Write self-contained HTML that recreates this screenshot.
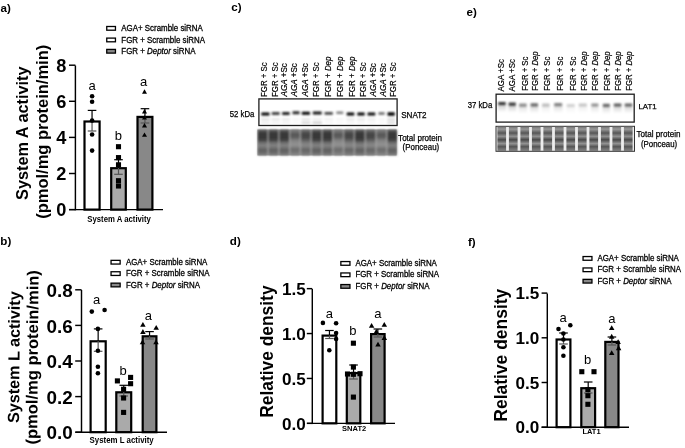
<!DOCTYPE html>
<html><head><meta charset="utf-8"><style>
html,body{margin:0;padding:0;background:#fff;}
body{width:685px;height:448px;overflow:hidden;position:relative;font-family:"Liberation Sans", sans-serif;}
svg{filter:grayscale(1);}
</style></head><body>
<svg width="685" height="448" viewBox="0 0 685 448" style="position:absolute;left:0;top:0;font-family:'Liberation Sans', sans-serif">
<defs><filter id="bl1" x="-20%" y="-50%" width="140%" height="200%"><feGaussianBlur stdDeviation="1 0.8"/></filter><filter id="bl2" x="-20%" y="-50%" width="140%" height="200%"><feGaussianBlur stdDeviation="0.9 0.8"/></filter><filter id="bl05"><feGaussianBlur stdDeviation="0.45"/></filter></defs>
<text x="0.5" y="12.4" font-size="11.6" font-weight="bold" text-anchor="start" fill="#000"  style="">a)</text>
<text x="231.2" y="10.5" font-size="11.6" font-weight="bold" text-anchor="start" fill="#000"  style="">c)</text>
<text x="466.5" y="15.5" font-size="11.6" font-weight="bold" text-anchor="start" fill="#000"  style="">e)</text>
<text x="0.3" y="244.7" font-size="11.6" font-weight="bold" text-anchor="start" fill="#000"  style="">b)</text>
<text x="229.8" y="244.6" font-size="11.6" font-weight="bold" text-anchor="start" fill="#000"  style="">d)</text>
<text x="468" y="245.5" font-size="11.6" font-weight="bold" text-anchor="start" fill="#000"  style="">f)</text>
<rect x="84.5" y="121.5" width="15.1" height="88.1" fill="#fff" stroke="#000" stroke-width="2.2"/>
<rect x="111.2" y="168.2" width="14.6" height="41.4" fill="#aaa" stroke="#000" stroke-width="2.2"/>
<rect x="137.5" y="116.9" width="14.9" height="92.7" fill="#888" stroke="#000" stroke-width="2.2"/>
<line x1="92.05" y1="110.4" x2="92.05" y2="121.3" stroke="#000" stroke-width="1.2"/>
<line x1="87.75" y1="110.4" x2="96.35" y2="110.4" stroke="#000" stroke-width="1.2"/>
<line x1="92.05" y1="121.3" x2="92.05" y2="131" stroke="#555" stroke-width="1.2"/>
<line x1="87.75" y1="131" x2="96.35" y2="131" stroke="#555" stroke-width="1.2"/>
<circle cx="92.1" cy="96.2" r="2.3" fill="#000"/>
<circle cx="92.1" cy="101.8" r="2.3" fill="#000"/>
<circle cx="92.1" cy="120.6" r="2.3" fill="#000"/>
<circle cx="92.1" cy="134.5" r="2.3" fill="#000"/>
<circle cx="92.1" cy="150.6" r="2.3" fill="#000"/>
<text x="92.1" y="89.5" font-size="13" font-weight="normal" text-anchor="middle" fill="#000"  style="">a</text>
<line x1="118.5" y1="159.7" x2="118.5" y2="168" stroke="#000" stroke-width="1.2"/>
<line x1="114.2" y1="159.7" x2="122.8" y2="159.7" stroke="#000" stroke-width="1.2"/>
<line x1="118.5" y1="168" x2="118.5" y2="174.3" stroke="#555" stroke-width="1.2"/>
<line x1="114.2" y1="174.3" x2="122.8" y2="174.3" stroke="#555" stroke-width="1.2"/>
<rect x="115.95" y="144.15" width="5.1" height="5.1" fill="#000"/>
<rect x="115.95" y="155.05" width="5.1" height="5.1" fill="#000"/>
<rect x="115.95" y="162.25" width="5.1" height="5.1" fill="#000"/>
<rect x="115.95" y="178.15" width="5.1" height="5.1" fill="#000"/>
<rect x="115.95" y="183.45" width="5.1" height="5.1" fill="#000"/>
<text x="118.3" y="139.5" font-size="13" font-weight="normal" text-anchor="middle" fill="#000"  style="">b</text>
<line x1="144.95" y1="108.7" x2="144.95" y2="116.7" stroke="#000" stroke-width="1.2"/>
<line x1="140.65" y1="108.7" x2="149.25" y2="108.7" stroke="#000" stroke-width="1.2"/>
<line x1="144.95" y1="116.7" x2="144.95" y2="123" stroke="#555" stroke-width="1.2"/>
<line x1="140.65" y1="123" x2="149.25" y2="123" stroke="#555" stroke-width="1.2"/>
<path d="M144.5 89.33 L147 93.77 L142 93.77 Z" fill="#000"/>
<path d="M144.5 109.03 L147 113.47 L142 113.47 Z" fill="#000"/>
<path d="M144.5 115.13 L147 119.57 L142 119.57 Z" fill="#000"/>
<path d="M144.5 123.03 L147 127.47 L142 127.47 Z" fill="#000"/>
<path d="M144.5 132.43 L147 136.87 L142 136.87 Z" fill="#000"/>
<text x="143.6" y="86.1" font-size="13" font-weight="normal" text-anchor="middle" fill="#000"  style="">a</text>
<line x1="75.4" y1="65.53" x2="75.4" y2="210.32" stroke="#000" stroke-width="1.45"/>
<line x1="69" y1="209.6" x2="163" y2="209.6" stroke="#000" stroke-width="1.45"/>
<line x1="69" y1="209.6" x2="75.4" y2="209.6" stroke="#000" stroke-width="1.45"/>
<text transform="translate(66.4,216.1) scale(1.04,1)" font-size="17.5" font-weight="bold" text-anchor="end">0</text>
<line x1="69" y1="173.5" x2="75.4" y2="173.5" stroke="#000" stroke-width="1.45"/>
<text transform="translate(66.4,180) scale(1.04,1)" font-size="17.5" font-weight="bold" text-anchor="end">2</text>
<line x1="69" y1="137.4" x2="75.4" y2="137.4" stroke="#000" stroke-width="1.45"/>
<text transform="translate(66.4,143.9) scale(1.04,1)" font-size="17.5" font-weight="bold" text-anchor="end">4</text>
<line x1="69" y1="101.3" x2="75.4" y2="101.3" stroke="#000" stroke-width="1.45"/>
<text transform="translate(66.4,107.8) scale(1.04,1)" font-size="17.5" font-weight="bold" text-anchor="end">6</text>
<line x1="69" y1="65.2" x2="75.4" y2="65.2" stroke="#000" stroke-width="1.45"/>
<text transform="translate(66.4,71.7) scale(1.04,1)" font-size="17.5" font-weight="bold" text-anchor="end">8</text>
<rect x="106.75" y="26.5" width="8.7" height="3.7" fill="#fff" stroke="#000" stroke-width="1.3"/>
<text x="121.3" y="30.9" font-size="8.6" font-weight="normal" text-anchor="start" fill="#000" textLength="81.5" lengthAdjust="spacingAndGlyphs" stroke="#000" stroke-width="0.3" style="">AGA+ Scramble siRNA</text>
<rect x="106.75" y="38.1" width="8.7" height="3.7" fill="#fff" stroke="#000" stroke-width="1.3"/>
<text x="121.3" y="42.5" font-size="8.6" font-weight="normal" text-anchor="start" fill="#000" textLength="83.7" lengthAdjust="spacingAndGlyphs" stroke="#000" stroke-width="0.3" style="">FGR + Scramble siRNA</text>
<rect x="106.75" y="49.4" width="8.7" height="3.7" fill="#888" stroke="#000" stroke-width="1.3"/>
<text x="121.3" y="53.8" font-size="8.6" font-weight="normal" text-anchor="start" fill="#000" textLength="74.2" lengthAdjust="spacingAndGlyphs" stroke="#000" stroke-width="0.3" style="">FGR + <tspan font-style="italic">Deptor</tspan> siRNA</text>
<text transform="translate(27.5,133.2) rotate(-90)" x="0" y="0" font-size="16.2" font-weight="bold" text-anchor="middle" textLength="133.5" lengthAdjust="spacingAndGlyphs">System A activity</text>
<text transform="translate(47.5,131.8) rotate(-90)" x="0" y="0" font-size="16.2" font-weight="bold" text-anchor="middle" textLength="174" lengthAdjust="spacingAndGlyphs">(pmol/mg protein/min)</text>
<text x="119.1" y="221.6" font-size="8.6" font-weight="bold" text-anchor="middle" fill="#000" textLength="63.6" lengthAdjust="spacingAndGlyphs" style="">System A activity</text>
<rect x="90.6" y="341.3" width="15.1" height="90.9" fill="#fff" stroke="#000" stroke-width="2.2"/>
<rect x="116.3" y="392.3" width="14.9" height="39.9" fill="#aaa" stroke="#000" stroke-width="2.2"/>
<rect x="142.7" y="336.3" width="13.7" height="95.9" fill="#888" stroke="#000" stroke-width="2.2"/>
<line x1="98.15" y1="328.9" x2="98.15" y2="341.1" stroke="#000" stroke-width="1.2"/>
<line x1="93.85" y1="328.9" x2="102.45" y2="328.9" stroke="#000" stroke-width="1.2"/>
<line x1="98.15" y1="341.1" x2="98.15" y2="351.3" stroke="#555" stroke-width="1.2"/>
<line x1="93.85" y1="351.3" x2="102.45" y2="351.3" stroke="#555" stroke-width="1.2"/>
<circle cx="91.8" cy="311.6" r="2.3" fill="#000"/>
<circle cx="104.6" cy="310" r="2.3" fill="#000"/>
<circle cx="97.9" cy="328.9" r="2.3" fill="#000"/>
<circle cx="97.9" cy="350.7" r="2.3" fill="#000"/>
<circle cx="97.9" cy="366.8" r="2.3" fill="#000"/>
<circle cx="97.9" cy="373.2" r="2.3" fill="#000"/>
<text x="96.6" y="303.8" font-size="13" font-weight="normal" text-anchor="middle" fill="#000"  style="">a</text>
<line x1="123.75" y1="385.3" x2="123.75" y2="392.1" stroke="#000" stroke-width="1.2"/>
<line x1="119.45" y1="385.3" x2="128.05" y2="385.3" stroke="#000" stroke-width="1.2"/>
<line x1="123.75" y1="392.1" x2="123.75" y2="396" stroke="#555" stroke-width="1.2"/>
<line x1="119.45" y1="396" x2="128.05" y2="396" stroke="#555" stroke-width="1.2"/>
<rect x="114.85" y="378.35" width="5.1" height="5.1" fill="#000"/>
<rect x="128.05" y="374.85" width="5.1" height="5.1" fill="#000"/>
<rect x="128.05" y="381.15" width="5.1" height="5.1" fill="#000"/>
<rect x="121.05" y="386.75" width="5.1" height="5.1" fill="#000"/>
<rect x="121.05" y="395.45" width="5.1" height="5.1" fill="#000"/>
<rect x="121.05" y="409.85" width="5.1" height="5.1" fill="#000"/>
<text x="123.2" y="374.5" font-size="13" font-weight="normal" text-anchor="middle" fill="#000"  style="">b</text>
<line x1="149.55" y1="331.6" x2="149.55" y2="336.1" stroke="#000" stroke-width="1.2"/>
<line x1="145.25" y1="331.6" x2="153.85" y2="331.6" stroke="#000" stroke-width="1.2"/>
<line x1="149.55" y1="336.1" x2="149.55" y2="339" stroke="#555" stroke-width="1.2"/>
<line x1="145.25" y1="339" x2="153.85" y2="339" stroke="#555" stroke-width="1.2"/>
<path d="M142.9 321.9 L145.65 326.8 L140.15 326.8 Z" fill="#000"/>
<path d="M156.2 324.9 L158.95 329.8 L153.45 329.8 Z" fill="#000"/>
<path d="M142.9 329 L145.65 333.9 L140.15 333.9 Z" fill="#000"/>
<path d="M142.5 339.4 L145.25 344.3 L139.75 344.3 Z" fill="#000"/>
<path d="M156 339.4 L158.75 344.3 L153.25 344.3 Z" fill="#000"/>
<text x="148.3" y="320.1" font-size="13" font-weight="normal" text-anchor="middle" fill="#000"  style="">a</text>
<line x1="81.5" y1="289.93" x2="81.5" y2="432.93" stroke="#000" stroke-width="1.45"/>
<line x1="75.4" y1="432.2" x2="167" y2="432.2" stroke="#000" stroke-width="1.45"/>
<line x1="75.2" y1="432.2" x2="81.5" y2="432.2" stroke="#000" stroke-width="1.45"/>
<text transform="translate(72.7,439.3) scale(1.08,1)" font-size="17.5" font-weight="bold" text-anchor="end">0.0</text>
<line x1="75.2" y1="396.6" x2="81.5" y2="396.6" stroke="#000" stroke-width="1.45"/>
<text transform="translate(72.7,403.7) scale(1.08,1)" font-size="17.5" font-weight="bold" text-anchor="end">0.2</text>
<line x1="75.2" y1="361" x2="81.5" y2="361" stroke="#000" stroke-width="1.45"/>
<text transform="translate(72.7,368.1) scale(1.08,1)" font-size="17.5" font-weight="bold" text-anchor="end">0.4</text>
<line x1="75.2" y1="325.4" x2="81.5" y2="325.4" stroke="#000" stroke-width="1.45"/>
<text transform="translate(72.7,332.5) scale(1.08,1)" font-size="17.5" font-weight="bold" text-anchor="end">0.6</text>
<line x1="75.2" y1="289.8" x2="81.5" y2="289.8" stroke="#000" stroke-width="1.45"/>
<text transform="translate(72.7,296.9) scale(1.08,1)" font-size="17.5" font-weight="bold" text-anchor="end">0.8</text>
<rect x="111.05" y="260.35" width="9.1" height="3.7" fill="#fff" stroke="#000" stroke-width="1.3"/>
<text x="125.9" y="264.75" font-size="8.6" font-weight="normal" text-anchor="start" fill="#000" textLength="81.5" lengthAdjust="spacingAndGlyphs" stroke="#000" stroke-width="0.3" style="">AGA+ Scramble siRNA</text>
<rect x="111.05" y="271.75" width="9.1" height="3.7" fill="#fff" stroke="#000" stroke-width="1.3"/>
<text x="125.9" y="276.15" font-size="8.6" font-weight="normal" text-anchor="start" fill="#000" textLength="83.7" lengthAdjust="spacingAndGlyphs" stroke="#000" stroke-width="0.3" style="">FGR + Scramble siRNA</text>
<rect x="111.05" y="283.15" width="9.1" height="3.7" fill="#888" stroke="#000" stroke-width="1.3"/>
<text x="125.9" y="287.55" font-size="8.6" font-weight="normal" text-anchor="start" fill="#000" textLength="74.2" lengthAdjust="spacingAndGlyphs" stroke="#000" stroke-width="0.3" style="">FGR + <tspan font-style="italic">Deptor</tspan> siRNA</text>
<text transform="translate(19.5,357.2) rotate(-89.57)" x="0" y="0" font-size="16.2" font-weight="bold" text-anchor="middle" textLength="131.8" lengthAdjust="spacingAndGlyphs">System L activity</text>
<text transform="translate(37.85,357.35) rotate(-89.57)" x="0" y="0" font-size="16.2" font-weight="bold" text-anchor="middle" textLength="174.3" lengthAdjust="spacingAndGlyphs">(pmol/mg protein/min)</text>
<text x="121.6" y="442.9" font-size="8.4" font-weight="bold" text-anchor="middle" fill="#000" textLength="64.2" lengthAdjust="spacingAndGlyphs" style="">System L activity</text>
<rect x="322.6" y="335.6" width="13.7" height="87.75" fill="#fff" stroke="#000" stroke-width="2.2"/>
<rect x="346.8" y="373.1" width="13.5" height="50.25" fill="#aaa" stroke="#000" stroke-width="2.2"/>
<rect x="371.1" y="334.1" width="13.5" height="89.25" fill="#888" stroke="#000" stroke-width="2.2"/>
<line x1="329.45" y1="330.5" x2="329.45" y2="335.4" stroke="#000" stroke-width="1.2"/>
<line x1="325.15" y1="330.5" x2="333.75" y2="330.5" stroke="#000" stroke-width="1.2"/>
<line x1="329.45" y1="335.4" x2="329.45" y2="338.5" stroke="#555" stroke-width="1.2"/>
<line x1="325.15" y1="338.5" x2="333.75" y2="338.5" stroke="#555" stroke-width="1.2"/>
<circle cx="322.9" cy="322.9" r="2.3" fill="#000"/>
<circle cx="336.1" cy="323.2" r="2.3" fill="#000"/>
<circle cx="336.1" cy="333" r="2.3" fill="#000"/>
<circle cx="336.1" cy="339" r="2.3" fill="#000"/>
<circle cx="329.3" cy="350.2" r="2.3" fill="#000"/>
<text x="329.3" y="317.9" font-size="13" font-weight="normal" text-anchor="middle" fill="#000"  style="">a</text>
<line x1="353.55" y1="365" x2="353.55" y2="372.9" stroke="#000" stroke-width="1.2"/>
<line x1="349.25" y1="365" x2="357.85" y2="365" stroke="#000" stroke-width="1.2"/>
<line x1="353.55" y1="372.9" x2="353.55" y2="379" stroke="#555" stroke-width="1.2"/>
<line x1="349.25" y1="379" x2="357.85" y2="379" stroke="#555" stroke-width="1.2"/>
<rect x="350.85" y="340.65" width="5.1" height="5.1" fill="#000"/>
<rect x="350.85" y="364.55" width="5.1" height="5.1" fill="#000"/>
<rect x="350.85" y="371.75" width="5.1" height="5.1" fill="#000"/>
<rect x="357.45" y="371.15" width="5.1" height="5.1" fill="#000"/>
<rect x="344.95" y="371.45" width="5.1" height="5.1" fill="#000"/>
<rect x="350.85" y="394.55" width="5.1" height="5.1" fill="#000"/>
<text x="352.9" y="334.5" font-size="13" font-weight="normal" text-anchor="middle" fill="#000"  style="">b</text>
<line x1="377.85" y1="329" x2="377.85" y2="333.9" stroke="#000" stroke-width="1.2"/>
<line x1="373.55" y1="329" x2="382.15" y2="329" stroke="#000" stroke-width="1.2"/>
<line x1="377.85" y1="333.9" x2="377.85" y2="337" stroke="#555" stroke-width="1.2"/>
<line x1="373.55" y1="337" x2="382.15" y2="337" stroke="#555" stroke-width="1.2"/>
<path d="M371.6 322.9 L374.35 327.8 L368.85 327.8 Z" fill="#000"/>
<path d="M384.3 321.9 L387.05 326.8 L381.55 326.8 Z" fill="#000"/>
<path d="M376.3 328.8 L379.05 333.69 L373.55 333.69 Z" fill="#000"/>
<path d="M384.3 335.1 L387.05 340 L381.55 340 Z" fill="#000"/>
<path d="M378 341.7 L380.75 346.6 L375.25 346.6 Z" fill="#000"/>
<text x="377.9" y="317.9" font-size="13" font-weight="normal" text-anchor="middle" fill="#000"  style="">a</text>
<line x1="312.3" y1="289.02" x2="312.3" y2="424.08" stroke="#000" stroke-width="1.45"/>
<line x1="307" y1="423.35" x2="395" y2="423.35" stroke="#000" stroke-width="1.45"/>
<line x1="306.8" y1="423.35" x2="312.3" y2="423.35" stroke="#000" stroke-width="1.45"/>
<text transform="translate(305.7,429.52) scale(1.05,1)" font-size="16.3" font-weight="bold" text-anchor="end">0.0</text>
<line x1="306.8" y1="378.45" x2="312.3" y2="378.45" stroke="#000" stroke-width="1.45"/>
<text transform="translate(305.7,384.62) scale(1.05,1)" font-size="16.3" font-weight="bold" text-anchor="end">0.5</text>
<line x1="306.8" y1="333.55" x2="312.3" y2="333.55" stroke="#000" stroke-width="1.45"/>
<text transform="translate(305.7,339.72) scale(1.05,1)" font-size="16.3" font-weight="bold" text-anchor="end">1.0</text>
<line x1="306.8" y1="288.65" x2="312.3" y2="288.65" stroke="#000" stroke-width="1.45"/>
<text transform="translate(305.7,294.82) scale(1.05,1)" font-size="16.3" font-weight="bold" text-anchor="end">1.5</text>
<rect x="340.85" y="261.55" width="9.1" height="3.7" fill="#fff" stroke="#000" stroke-width="1.3"/>
<text x="355.4" y="265.95" font-size="8.6" font-weight="normal" text-anchor="start" fill="#000" textLength="81.5" lengthAdjust="spacingAndGlyphs" stroke="#000" stroke-width="0.3" style="">AGA+ Scramble siRNA</text>
<rect x="340.85" y="272.95" width="9.1" height="3.7" fill="#fff" stroke="#000" stroke-width="1.3"/>
<text x="355.4" y="277.35" font-size="8.6" font-weight="normal" text-anchor="start" fill="#000" textLength="83.7" lengthAdjust="spacingAndGlyphs" stroke="#000" stroke-width="0.3" style="">FGR + Scramble siRNA</text>
<rect x="340.85" y="284.55" width="9.1" height="3.7" fill="#888" stroke="#000" stroke-width="1.3"/>
<text x="355.4" y="288.95" font-size="8.6" font-weight="normal" text-anchor="start" fill="#000" textLength="74.2" lengthAdjust="spacingAndGlyphs" stroke="#000" stroke-width="0.3" style="">FGR + <tspan font-style="italic">Deptor</tspan> siRNA</text>
<text transform="translate(273.4,351.6) rotate(-90)" x="0" y="0" font-size="17.7" font-weight="bold" text-anchor="middle" textLength="132.3" lengthAdjust="spacingAndGlyphs">Relative density</text>
<text x="354.1" y="430.9" font-size="7.5" font-weight="bold" text-anchor="middle" fill="#000" textLength="24.2" lengthAdjust="spacingAndGlyphs" style="">SNAT2</text>
<rect x="556.6" y="339.5" width="13.8" height="87.7" fill="#fff" stroke="#000" stroke-width="2.2"/>
<rect x="581.3" y="388.2" width="13.8" height="39" fill="#aaa" stroke="#000" stroke-width="2.2"/>
<rect x="605.3" y="341.9" width="13.2" height="85.3" fill="#888" stroke="#000" stroke-width="2.2"/>
<line x1="563.5" y1="333" x2="563.5" y2="339.3" stroke="#000" stroke-width="1.2"/>
<line x1="559.2" y1="333" x2="567.8" y2="333" stroke="#000" stroke-width="1.2"/>
<line x1="563.5" y1="339.3" x2="563.5" y2="344" stroke="#555" stroke-width="1.2"/>
<line x1="559.2" y1="344" x2="567.8" y2="344" stroke="#555" stroke-width="1.2"/>
<circle cx="558.5" cy="329" r="2.3" fill="#000"/>
<circle cx="570.3" cy="325.3" r="2.3" fill="#000"/>
<circle cx="563.4" cy="333.5" r="2.3" fill="#000"/>
<circle cx="563.4" cy="339.5" r="2.3" fill="#000"/>
<circle cx="563.4" cy="347.2" r="2.3" fill="#000"/>
<circle cx="563.4" cy="355.8" r="2.3" fill="#000"/>
<text x="563.2" y="321.9" font-size="13" font-weight="normal" text-anchor="middle" fill="#000"  style="">a</text>
<line x1="588.2" y1="382" x2="588.2" y2="388" stroke="#000" stroke-width="1.2"/>
<line x1="583.9" y1="382" x2="592.5" y2="382" stroke="#000" stroke-width="1.2"/>
<line x1="588.2" y1="388" x2="588.2" y2="393" stroke="#555" stroke-width="1.2"/>
<line x1="583.9" y1="393" x2="592.5" y2="393" stroke="#555" stroke-width="1.2"/>
<rect x="579.25" y="369.15" width="5.1" height="5.1" fill="#000"/>
<rect x="591.45" y="369.15" width="5.1" height="5.1" fill="#000"/>
<rect x="585.35" y="387.05" width="5.1" height="5.1" fill="#000"/>
<rect x="585.35" y="393.15" width="5.1" height="5.1" fill="#000"/>
<rect x="585.35" y="401.75" width="5.1" height="5.1" fill="#000"/>
<text x="587.6" y="364.4" font-size="13" font-weight="normal" text-anchor="middle" fill="#000"  style="">b</text>
<line x1="611.9" y1="337" x2="611.9" y2="341.7" stroke="#000" stroke-width="1.2"/>
<line x1="607.6" y1="337" x2="616.2" y2="337" stroke="#000" stroke-width="1.2"/>
<line x1="611.9" y1="341.7" x2="611.9" y2="345" stroke="#555" stroke-width="1.2"/>
<line x1="607.6" y1="345" x2="616.2" y2="345" stroke="#555" stroke-width="1.2"/>
<path d="M611.7 325.2 L614.45 330.1 L608.95 330.1 Z" fill="#000"/>
<path d="M611.7 333.8 L614.45 338.69 L608.95 338.69 Z" fill="#000"/>
<path d="M618.1 339.2 L620.85 344.1 L615.35 344.1 Z" fill="#000"/>
<path d="M618.6 345.3 L621.35 350.19 L615.85 350.19 Z" fill="#000"/>
<path d="M611.7 350.2 L614.45 355.1 L608.95 355.1 Z" fill="#000"/>
<text x="611.8" y="322.9" font-size="13" font-weight="normal" text-anchor="middle" fill="#000"  style="">a</text>
<line x1="547.3" y1="293.52" x2="547.3" y2="427.93" stroke="#000" stroke-width="1.45"/>
<line x1="541.6" y1="427.2" x2="629" y2="427.2" stroke="#000" stroke-width="1.45"/>
<line x1="541.6" y1="427.2" x2="547.3" y2="427.2" stroke="#000" stroke-width="1.45"/>
<text transform="translate(539.4,433.27) scale(1.05,1)" font-size="16.3" font-weight="bold" text-anchor="end">0.0</text>
<line x1="541.6" y1="382.5" x2="547.3" y2="382.5" stroke="#000" stroke-width="1.45"/>
<text transform="translate(539.4,388.57) scale(1.05,1)" font-size="16.3" font-weight="bold" text-anchor="end">0.5</text>
<line x1="541.6" y1="337.8" x2="547.3" y2="337.8" stroke="#000" stroke-width="1.45"/>
<text transform="translate(539.4,343.87) scale(1.05,1)" font-size="16.3" font-weight="bold" text-anchor="end">1.0</text>
<line x1="541.6" y1="293.1" x2="547.3" y2="293.1" stroke="#000" stroke-width="1.45"/>
<text transform="translate(539.4,299.17) scale(1.05,1)" font-size="16.3" font-weight="bold" text-anchor="end">1.5</text>
<rect x="583.05" y="256.55" width="8.9" height="3.7" fill="#fff" stroke="#000" stroke-width="1.3"/>
<text x="597.4" y="260.95" font-size="8.6" font-weight="normal" text-anchor="start" fill="#000" textLength="81.5" lengthAdjust="spacingAndGlyphs" stroke="#000" stroke-width="0.3" style="">AGA+ Scramble siRNA</text>
<rect x="583.05" y="267.95" width="8.9" height="3.7" fill="#fff" stroke="#000" stroke-width="1.3"/>
<text x="597.4" y="272.35" font-size="8.6" font-weight="normal" text-anchor="start" fill="#000" textLength="83.7" lengthAdjust="spacingAndGlyphs" stroke="#000" stroke-width="0.3" style="">FGR + Scramble siRNA</text>
<rect x="583.05" y="279.35" width="8.9" height="3.7" fill="#888" stroke="#000" stroke-width="1.3"/>
<text x="597.4" y="283.75" font-size="8.6" font-weight="normal" text-anchor="start" fill="#000" textLength="74.2" lengthAdjust="spacingAndGlyphs" stroke="#000" stroke-width="0.3" style="">FGR + <tspan font-style="italic">Deptor</tspan> siRNA</text>
<text transform="translate(507,355.2) rotate(-90)" x="0" y="0" font-size="17.6" font-weight="bold" text-anchor="middle" textLength="133" lengthAdjust="spacingAndGlyphs">Relative density</text>
<text x="591.5" y="433.7" font-size="7.8" font-weight="bold" text-anchor="middle" fill="#000" textLength="18.2" lengthAdjust="spacingAndGlyphs" style="">LAT1</text>
<text transform="translate(267.14,97) rotate(-90)" x="0" y="0" font-size="8.2" textLength="34.8" lengthAdjust="spacingAndGlyphs" stroke="#000" stroke-width="0.2">FGR + Sc</text>
<text transform="translate(277.94,97) rotate(-90)" x="0" y="0" font-size="8.2" textLength="34.8" lengthAdjust="spacingAndGlyphs" stroke="#000" stroke-width="0.2">FGR + Sc</text>
<text transform="translate(287.44,96.5) rotate(-90)" x="0" y="0" font-size="8.2" textLength="33.4" lengthAdjust="spacingAndGlyphs" stroke="#000" stroke-width="0.2"><tspan font-style="italic">AGA</tspan> +Sc</text>
<text transform="translate(297.34,96.5) rotate(-90)" x="0" y="0" font-size="8.2" textLength="33.4" lengthAdjust="spacingAndGlyphs" stroke="#000" stroke-width="0.2"><tspan font-style="italic">AGA</tspan> +Sc</text>
<text transform="translate(308.14,96.5) rotate(-90)" x="0" y="0" font-size="8.2" textLength="33.4" lengthAdjust="spacingAndGlyphs" stroke="#000" stroke-width="0.2"><tspan font-style="italic">AGA</tspan> +Sc</text>
<text transform="translate(319.44,97) rotate(-90)" x="0" y="0" font-size="8.2" textLength="34.8" lengthAdjust="spacingAndGlyphs" stroke="#000" stroke-width="0.2">FGR + Sc</text>
<text transform="translate(330.94,97) rotate(-90)" x="0" y="0" font-size="8.2" textLength="40.5" lengthAdjust="spacingAndGlyphs" stroke="#000" stroke-width="0.2">FGR + <tspan font-style="italic">Dep</tspan></text>
<text transform="translate(342.84,97) rotate(-90)" x="0" y="0" font-size="8.2" textLength="40.5" lengthAdjust="spacingAndGlyphs" stroke="#000" stroke-width="0.2">FGR + <tspan font-style="italic">Dep</tspan></text>
<text transform="translate(354.74,97) rotate(-90)" x="0" y="0" font-size="8.2" textLength="40.5" lengthAdjust="spacingAndGlyphs" stroke="#000" stroke-width="0.2">FGR + <tspan font-style="italic">Dep</tspan></text>
<text transform="translate(366.44,97) rotate(-90)" x="0" y="0" font-size="8.2" textLength="34.8" lengthAdjust="spacingAndGlyphs" stroke="#000" stroke-width="0.2">FGR + Sc</text>
<text transform="translate(376.34,96.5) rotate(-90)" x="0" y="0" font-size="8.2" textLength="33.4" lengthAdjust="spacingAndGlyphs" stroke="#000" stroke-width="0.2"><tspan font-style="italic">AGA</tspan> +Sc</text>
<text transform="translate(386.24,96.5) rotate(-90)" x="0" y="0" font-size="8.2" textLength="33.4" lengthAdjust="spacingAndGlyphs" stroke="#000" stroke-width="0.2"><tspan font-style="italic">AGA</tspan> +Sc</text>
<text transform="translate(396.24,97) rotate(-90)" x="0" y="0" font-size="8.2" textLength="34.8" lengthAdjust="spacingAndGlyphs" stroke="#000" stroke-width="0.2">FGR + Sc</text>
<text transform="translate(504.14,91.4) rotate(-90)" x="0" y="0" font-size="8.2" textLength="32.3" lengthAdjust="spacingAndGlyphs" stroke="#000" stroke-width="0.2">AGA +Sc</text>
<text transform="translate(514.94,91.4) rotate(-90)" x="0" y="0" font-size="8.2" textLength="32.3" lengthAdjust="spacingAndGlyphs" stroke="#000" stroke-width="0.2">AGA +Sc</text>
<text transform="translate(527.54,90.8) rotate(-90)" x="0" y="0" font-size="8.2" textLength="34.2" lengthAdjust="spacingAndGlyphs" stroke="#000" stroke-width="0.2">FGR + Sc</text>
<text transform="translate(537.74,90.8) rotate(-90)" x="0" y="0" font-size="8.2" textLength="39.5" lengthAdjust="spacingAndGlyphs" stroke="#000" stroke-width="0.2">FGR + <tspan font-style="italic">Dep</tspan></text>
<text transform="translate(550.24,90.8) rotate(-90)" x="0" y="0" font-size="8.2" textLength="34.2" lengthAdjust="spacingAndGlyphs" stroke="#000" stroke-width="0.2">FGR + Sc</text>
<text transform="translate(563.44,90.8) rotate(-90)" x="0" y="0" font-size="8.2" textLength="34.2" lengthAdjust="spacingAndGlyphs" stroke="#000" stroke-width="0.2">FGR + Sc</text>
<text transform="translate(576.24,90.8) rotate(-90)" x="0" y="0" font-size="8.2" textLength="34.2" lengthAdjust="spacingAndGlyphs" stroke="#000" stroke-width="0.2">FGR + Sc</text>
<text transform="translate(587.34,90.8) rotate(-90)" x="0" y="0" font-size="8.2" textLength="39.5" lengthAdjust="spacingAndGlyphs" stroke="#000" stroke-width="0.2">FGR + <tspan font-style="italic">Dep</tspan></text>
<text transform="translate(598.14,90.8) rotate(-90)" x="0" y="0" font-size="8.2" textLength="39.5" lengthAdjust="spacingAndGlyphs" stroke="#000" stroke-width="0.2">FGR + <tspan font-style="italic">Dep</tspan></text>
<text transform="translate(610.14,90.8) rotate(-90)" x="0" y="0" font-size="8.2" textLength="39.5" lengthAdjust="spacingAndGlyphs" stroke="#000" stroke-width="0.2">FGR + <tspan font-style="italic">Dep</tspan></text>
<text transform="translate(620.84,90.8) rotate(-90)" x="0" y="0" font-size="8.2" textLength="39.5" lengthAdjust="spacingAndGlyphs" stroke="#000" stroke-width="0.2">FGR + <tspan font-style="italic">Dep</tspan></text>
<text transform="translate(631.64,90.8) rotate(-90)" x="0" y="0" font-size="8.2" textLength="39.5" lengthAdjust="spacingAndGlyphs" stroke="#000" stroke-width="0.2">FGR + <tspan font-style="italic">Dep</tspan></text>
<rect x="258.9" y="98.9" width="138.2" height="26.6" fill="#fff" stroke="#1e1e1e" stroke-width="1.3"/>
<g filter="url(#bl1)">
<rect x="261.3" y="112.5" width="8.2" height="3" rx="0.6" fill="#000" fill-opacity="1"/>
<rect x="261" y="118.6" width="8.8" height="1.6" fill="#000" fill-opacity="0.16"/>
<rect x="261" y="121.9" width="8.8" height="1.6" fill="#000" fill-opacity="0.1"/>
<rect x="271.7" y="112.1" width="8" height="2.8" rx="0.6" fill="#000" fill-opacity="0.74"/>
<rect x="271.4" y="118.6" width="8.6" height="1.6" fill="#000" fill-opacity="0.14"/>
<rect x="271.4" y="121.9" width="8.6" height="1.6" fill="#000" fill-opacity="0.08"/>
<rect x="282.1" y="112.1" width="7.6" height="2.8" rx="0.6" fill="#000" fill-opacity="0.88"/>
<rect x="281.8" y="118.6" width="8.2" height="1.6" fill="#000" fill-opacity="0.13"/>
<rect x="281.8" y="121.9" width="8.2" height="1.6" fill="#000" fill-opacity="0.08"/>
<rect x="292.5" y="111.3" width="7.1" height="3" rx="0.6" fill="#000" fill-opacity="0.84"/>
<rect x="292.2" y="118.6" width="7.7" height="1.6" fill="#000" fill-opacity="0.05"/>
<rect x="292.2" y="121.9" width="7.7" height="1.6" fill="#000" fill-opacity="0.03"/>
<rect x="301.8" y="111.8" width="8.2" height="3" rx="0.6" fill="#000" fill-opacity="1"/>
<rect x="301.5" y="118.6" width="8.8" height="1.6" fill="#000" fill-opacity="0.16"/>
<rect x="301.5" y="121.9" width="8.8" height="1.6" fill="#000" fill-opacity="0.22"/>
<rect x="312.8" y="111.6" width="8.9" height="2.8" rx="0.6" fill="#000" fill-opacity="0.92"/>
<rect x="312.5" y="118.6" width="9.5" height="1.6" fill="#000" fill-opacity="0.1"/>
<rect x="312.5" y="121.9" width="9.5" height="1.6" fill="#000" fill-opacity="0.26"/>
<rect x="324.5" y="111.9" width="8.4" height="2.8" rx="0.6" fill="#000" fill-opacity="0.74"/>
<rect x="324.2" y="118.6" width="9" height="1.6" fill="#000" fill-opacity="0.08"/>
<rect x="324.2" y="121.9" width="9" height="1.6" fill="#000" fill-opacity="0.05"/>
<rect x="336.3" y="111.5" width="7" height="2.6" rx="0.6" fill="#000" fill-opacity="0.51"/>
<rect x="336" y="118.6" width="7.6" height="1.6" fill="#000" fill-opacity="0.05"/>
<rect x="336" y="121.9" width="7.6" height="1.6" fill="#000" fill-opacity="0.03"/>
<rect x="346.7" y="112.5" width="7.6" height="3" rx="0.6" fill="#000" fill-opacity="1"/>
<rect x="346.4" y="118.6" width="8.2" height="1.6" fill="#000" fill-opacity="0.13"/>
<rect x="346.4" y="121.9" width="8.2" height="1.6" fill="#000" fill-opacity="0.06"/>
<rect x="357.3" y="112.5" width="7.4" height="3" rx="0.6" fill="#000" fill-opacity="1"/>
<rect x="357" y="118.6" width="8" height="1.6" fill="#000" fill-opacity="0.13"/>
<rect x="357" y="121.9" width="8" height="1.6" fill="#000" fill-opacity="0.06"/>
<rect x="367.5" y="112.5" width="7.8" height="3" rx="0.6" fill="#000" fill-opacity="0.97"/>
<rect x="367.2" y="118.6" width="8.4" height="1.6" fill="#000" fill-opacity="0.1"/>
<rect x="367.2" y="121.9" width="8.4" height="1.6" fill="#000" fill-opacity="0.05"/>
<rect x="378.4" y="112.2" width="6.3" height="2.6" rx="0.6" fill="#000" fill-opacity="0.61"/>
<rect x="378.1" y="118.6" width="6.9" height="1.6" fill="#000" fill-opacity="0.05"/>
<rect x="378.1" y="121.9" width="6.9" height="1.6" fill="#000" fill-opacity="0.03"/>
<rect x="387.5" y="112.3" width="7.3" height="3.4" rx="0.6" fill="#000" fill-opacity="1"/>
<rect x="387.2" y="118.6" width="7.9" height="1.6" fill="#000" fill-opacity="0.22"/>
<rect x="387.2" y="121.9" width="7.9" height="1.6" fill="#000" fill-opacity="0.19"/>
</g>
<text x="254.4" y="116.9" font-size="8.4" font-weight="normal" text-anchor="end" fill="#000" textLength="24.6" lengthAdjust="spacingAndGlyphs" stroke="#000" stroke-width="0.25" style="">52 kDa</text>
<text x="401.2" y="118.2" font-size="8.5" font-weight="normal" text-anchor="start" fill="#000" textLength="25.4" lengthAdjust="spacingAndGlyphs" stroke="#000" stroke-width="0.25" style="">SNAT2</text>
<rect x="257.4" y="129.5" width="139.2" height="26" fill="#a0a0a0"/>
<defs><linearGradient id="pcA" x1="0" y1="0" x2="0" y2="1"><stop offset="0" stop-color="#6e6e6e"/><stop offset="0.05" stop-color="#4e4e4e"/><stop offset="0.15" stop-color="#383838"/><stop offset="0.33" stop-color="#373737"/><stop offset="0.43" stop-color="#484848"/><stop offset="0.52" stop-color="#727272"/><stop offset="0.62" stop-color="#828282"/><stop offset="0.72" stop-color="#6e6e6e"/><stop offset="0.8" stop-color="#5c5c5c"/><stop offset="0.9" stop-color="#6c6c6c"/><stop offset="1" stop-color="#7c7c7c"/></linearGradient></defs>
<defs><linearGradient id="pcB" x1="0" y1="0" x2="0" y2="1"><stop offset="0" stop-color="#747474"/><stop offset="0.08" stop-color="#595959"/><stop offset="0.18" stop-color="#424242"/><stop offset="0.32" stop-color="#484848"/><stop offset="0.42" stop-color="#626262"/><stop offset="0.52" stop-color="#7e7e7e"/><stop offset="0.62" stop-color="#888888"/><stop offset="0.72" stop-color="#727272"/><stop offset="0.8" stop-color="#626262"/><stop offset="0.9" stop-color="#747474"/><stop offset="1" stop-color="#7e7e7e"/></linearGradient></defs>
<defs><linearGradient id="pcC" x1="0" y1="0" x2="0" y2="1"><stop offset="0" stop-color="#7e7e7e"/><stop offset="0.1" stop-color="#6a6a6a"/><stop offset="0.2" stop-color="#545454"/><stop offset="0.3" stop-color="#5e5e5e"/><stop offset="0.4" stop-color="#7e7e7e"/><stop offset="0.52" stop-color="#8e8e8e"/><stop offset="0.62" stop-color="#909090"/><stop offset="0.72" stop-color="#747474"/><stop offset="0.8" stop-color="#6a6a6a"/><stop offset="0.9" stop-color="#7c7c7c"/><stop offset="1" stop-color="#848484"/></linearGradient></defs>
<g filter="url(#bl2)">
<rect x="257.9" y="129.6" width="9.4" height="25.8" fill="url(#pcA)"/>
<rect x="268.7" y="129.6" width="9.4" height="25.8" fill="url(#pcA)"/>
<rect x="279.5" y="129.6" width="9.4" height="25.8" fill="url(#pcA)"/>
<rect x="290.3" y="129.6" width="9.4" height="25.8" fill="url(#pcC)"/>
<rect x="301.1" y="129.6" width="9.4" height="25.8" fill="url(#pcB)"/>
<rect x="311.9" y="129.6" width="9.4" height="25.8" fill="url(#pcA)"/>
<rect x="322.7" y="129.6" width="9.4" height="25.8" fill="url(#pcA)"/>
<rect x="333.5" y="129.6" width="9.4" height="25.8" fill="url(#pcC)"/>
<rect x="344.3" y="129.6" width="9.4" height="25.8" fill="url(#pcB)"/>
<rect x="355.1" y="129.6" width="9.4" height="25.8" fill="url(#pcA)"/>
<rect x="365.9" y="129.6" width="9.4" height="25.8" fill="url(#pcB)"/>
<rect x="376.7" y="129.6" width="9.4" height="25.8" fill="url(#pcC)"/>
<rect x="387.5" y="129.6" width="9.4" height="25.8" fill="url(#pcA)"/>
</g>
<text x="398.1" y="141.1" font-size="8.4" font-weight="normal" text-anchor="start" fill="#000" textLength="44" lengthAdjust="spacingAndGlyphs" stroke="#000" stroke-width="0.25" style="">Total protein</text>
<text x="402.6" y="149.6" font-size="8.2" font-weight="normal" text-anchor="start" fill="#000" textLength="36.6" lengthAdjust="spacingAndGlyphs" stroke="#000" stroke-width="0.25" style="">(Ponceau)</text>
<rect x="496.1" y="94.2" width="138.1" height="27.9" fill="#fff" stroke="#1e1e1e" stroke-width="1.3"/>
<defs><linearGradient id="sm" x1="0" y1="0" x2="0" y2="1"><stop offset="0" stop-color="#000" stop-opacity="0.3"/><stop offset="1" stop-color="#000" stop-opacity="0"/></linearGradient></defs>
<g filter="url(#bl1)">
<rect x="498.2" y="101.9" width="7.6" height="3.2" rx="0.8" fill="#000" fill-opacity="0.81"/>
<rect x="497.9" y="105" width="8.2" height="7" fill="url(#sm)" opacity="0.68"/>
<rect x="508.6" y="102.5" width="7.3" height="3.2" rx="0.8" fill="#000" fill-opacity="0.78"/>
<rect x="508.3" y="105.6" width="7.9" height="7" fill="url(#sm)" opacity="0.66"/>
<rect x="519" y="103.5" width="7.7" height="3.2" rx="0.8" fill="#000" fill-opacity="0.45"/>
<rect x="518.7" y="106.6" width="8.3" height="7" fill="url(#sm)" opacity="0.39"/>
<rect x="530.5" y="103.3" width="7.6" height="3.2" rx="0.8" fill="#000" fill-opacity="0.59"/>
<rect x="530.2" y="106.4" width="8.2" height="7" fill="url(#sm)" opacity="0.5"/>
<rect x="542" y="103.6" width="7.6" height="3.2" rx="0.8" fill="#000" fill-opacity="0.26"/>
<rect x="541.7" y="106.7" width="8.2" height="7" fill="url(#sm)" opacity="0.22"/>
<rect x="554.1" y="103.1" width="8.1" height="3.2" rx="0.8" fill="#000" fill-opacity="0.49"/>
<rect x="553.8" y="106.2" width="8.7" height="7" fill="url(#sm)" opacity="0.42"/>
<rect x="566.7" y="103.9" width="8.1" height="3.2" rx="0.8" fill="#000" fill-opacity="0.18"/>
<rect x="566.4" y="107" width="8.7" height="7" fill="url(#sm)" opacity="0.15"/>
<rect x="578.7" y="103.4" width="8.2" height="3.2" rx="0.8" fill="#000" fill-opacity="0.23"/>
<rect x="578.4" y="106.5" width="8.8" height="7" fill="url(#sm)" opacity="0.2"/>
<rect x="591.3" y="103.4" width="7.1" height="3.2" rx="0.8" fill="#000" fill-opacity="0.44"/>
<rect x="591" y="106.5" width="7.7" height="7" fill="url(#sm)" opacity="0.37"/>
<rect x="602.8" y="103.8" width="7.1" height="3.2" rx="0.8" fill="#000" fill-opacity="0.59"/>
<rect x="602.5" y="106.9" width="7.7" height="7" fill="url(#sm)" opacity="0.5"/>
<rect x="613.8" y="103.4" width="7.6" height="3.2" rx="0.8" fill="#000" fill-opacity="0.65"/>
<rect x="613.5" y="106.5" width="8.2" height="7" fill="url(#sm)" opacity="0.55"/>
<rect x="624.7" y="103.4" width="7.6" height="3.2" rx="0.8" fill="#000" fill-opacity="0.62"/>
<rect x="624.4" y="106.5" width="8.2" height="7" fill="url(#sm)" opacity="0.53"/>
</g>
<text x="492.3" y="107.5" font-size="8.4" font-weight="normal" text-anchor="end" fill="#000" textLength="24.6" lengthAdjust="spacingAndGlyphs" stroke="#000" stroke-width="0.25" style="">37 kDa</text>
<text x="638.4" y="109" font-size="8.1" font-weight="normal" text-anchor="start" fill="#000" textLength="18.2" lengthAdjust="spacingAndGlyphs" stroke="#000" stroke-width="0.25" style="">LAT1</text>
<rect x="496" y="126.3" width="138.5" height="25" fill="#ececec" stroke="#333" stroke-width="1"/>
<defs><linearGradient id="pe" x1="0" y1="0" x2="0" y2="1"><stop offset="0" stop-color="#777"/><stop offset="0.1" stop-color="#999"/><stop offset="0.26" stop-color="#555"/><stop offset="0.4" stop-color="#909090"/><stop offset="0.54" stop-color="#484848"/><stop offset="0.7" stop-color="#929292"/><stop offset="0.83" stop-color="#555"/><stop offset="0.94" stop-color="#777"/><stop offset="1" stop-color="#666"/></linearGradient></defs>
<g filter="url(#bl05)">
<rect x="497.4" y="126.8" width="8.7" height="24" fill="url(#pe)"/>
<rect x="508.9" y="126.8" width="8.7" height="24" fill="url(#pe)"/>
<rect x="520.4" y="126.8" width="8.7" height="24" fill="url(#pe)"/>
<rect x="531.9" y="126.8" width="8.7" height="24" fill="url(#pe)"/>
<rect x="543.4" y="126.8" width="8.7" height="24" fill="url(#pe)"/>
<rect x="554.9" y="126.8" width="8.7" height="24" fill="url(#pe)"/>
<rect x="566.4" y="126.8" width="8.7" height="24" fill="url(#pe)"/>
<rect x="577.9" y="126.8" width="8.7" height="24" fill="url(#pe)"/>
<rect x="589.4" y="126.8" width="8.7" height="24" fill="url(#pe)"/>
<rect x="600.9" y="126.8" width="8.7" height="24" fill="url(#pe)"/>
<rect x="612.4" y="126.8" width="8.7" height="24" fill="url(#pe)"/>
<rect x="623.9" y="126.8" width="8.7" height="24" fill="url(#pe)"/>
</g>
<text x="636.5" y="137.4" font-size="8.4" font-weight="normal" text-anchor="start" fill="#000" textLength="44" lengthAdjust="spacingAndGlyphs" stroke="#000" stroke-width="0.25" style="">Total protein</text>
<text x="641" y="146.9" font-size="8.2" font-weight="normal" text-anchor="start" fill="#000" textLength="36.2" lengthAdjust="spacingAndGlyphs" stroke="#000" stroke-width="0.25" style="">(Ponceau)</text>
</svg>
</body></html>
